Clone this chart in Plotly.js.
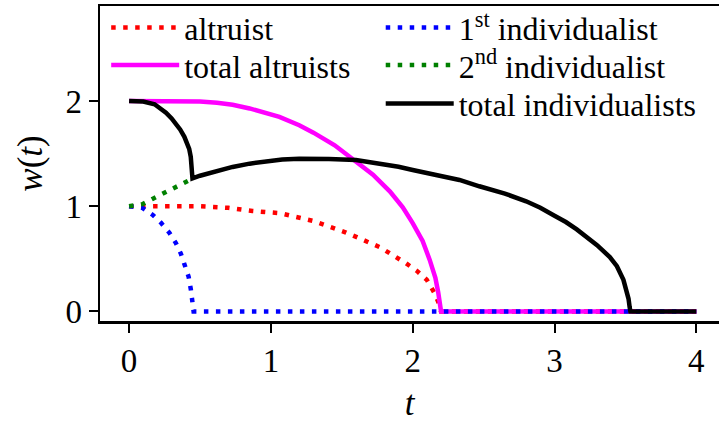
<!DOCTYPE html>
<html>
<head>
<meta charset="utf-8">
<script src="https://cdn.plot.ly/plotly-3.0.1.min.js"></script>
<style>
  html, body { margin: 0; padding: 0; background: #fff; overflow: hidden; }
  #graph { width: 719px; height: 423px; }
</style>
</head>
<body>
<div id="graph"></div>
<script>
// values
const altruistT = [0, 0.2, 0.5, 0.7, 0.87, 1.06, 1.2, 1.3, 1.53, 1.77, 1.95, 2.03, 2.1, 2.16, 2.18, 2.2, 4.0];
const altruistW = [1, 1, 1, 0.985, 0.955, 0.935, 0.895, 0.86, 0.75, 0.61, 0.46, 0.385, 0.3, 0.16, 0.09, 0, 0];

const totalAltT = [0, 0.3, 0.5, 0.62, 0.73, 0.85, 0.97, 1.06, 1.2, 1.3, 1.45, 1.6, 1.72, 1.84, 1.93, 2.0, 2.07, 2.12, 2.16, 2.18, 2.195, 2.2, 4.0];
const totalAltW = [2, 2, 1.995, 1.985, 1.965, 1.93, 1.88, 1.85, 1.77, 1.7, 1.58, 1.43, 1.3, 1.14, 0.99, 0.84, 0.67, 0.49, 0.32, 0.18, 0.06, 0, 0];

const firstIndT = [0, 0.094, 0.165, 0.224, 0.283, 0.33, 0.365, 0.396, 0.42, 0.436, 0.447, 0.455, 4.0];
const firstIndW = [1, 0.985, 0.92, 0.844, 0.75, 0.65, 0.55, 0.44, 0.33, 0.205, 0.096, 0, 0];

const secondIndT = [0, 0.094, 0.165, 0.235, 0.31, 0.389, 0.45];
const secondIndW = [1, 1.02, 1.07, 1.12, 1.17, 1.227, 1.265];

const totalIndT = [0, 0.1, 0.18, 0.22, 0.26, 0.3, 0.33, 0.36, 0.39, 0.41, 0.424, 0.435, 0.443, 0.447,
  0.5, 0.55, 0.63, 0.73, 0.85, 0.97, 1.08, 1.2, 1.3, 1.41, 1.6, 1.77, 1.9, 2.0, 2.12, 2.33, 2.47, 2.65, 2.8, 2.9,
  3.0, 3.08, 3.157, 3.23, 3.3, 3.39, 3.44, 3.486, 3.51, 3.522, 3.53, 3.535, 4.0];
const totalIndW = [2, 1.995, 1.97, 1.935, 1.89, 1.835, 1.79, 1.73, 1.66, 1.6, 1.545, 1.47, 1.37, 1.265,
  1.29, 1.31, 1.34, 1.374, 1.405, 1.43, 1.445, 1.452, 1.455, 1.45, 1.44, 1.405, 1.375, 1.345, 1.31, 1.25, 1.19, 1.12, 1.047, 0.985,
  0.91, 0.85, 0.78, 0.71, 0.63, 0.517, 0.43, 0.3, 0.2, 0.12, 0.04, 0, 0];

const xTicks = [0, 1, 2, 3, 4];
const yTicks = [0, 1, 2];

const FONT = "Liberation Serif";
const dotted = "4.5px,7.5px";

// one legend per entry so the rows sit where the reference has them
function legendBox(x, y) {
  return {
    x: x, y: y, xanchor: "left", yanchor: "middle",
    bgcolor: "rgba(0,0,0,0)", borderwidth: 0,
    font: { family: FONT, size: 32, color: "#000" },
    itemwidth: 68,
  };
}

let data = [
  {
    x: altruistT, y: altruistW, name: "altruist", type: "scatter", mode: "lines",
    line: { color: "#ff0000", width: 4.5, dash: dotted },
    legend: "legend",
  },
  {
    x: totalAltT, y: totalAltW, name: "total altruists", type: "scatter", mode: "lines",
    line: { color: "#ff00ff", width: 4.5 },
    legend: "legend2",
  },
  {
    x: firstIndT, y: firstIndW, name: "1<sup>st</sup> individualist", type: "scatter", mode: "lines",
    line: { color: "#0000ff", width: 4.5, dash: dotted },
    legend: "legend3",
  },
  {
    x: secondIndT, y: secondIndW, name: "2<sup>nd</sup> individualist", type: "scatter", mode: "lines",
    line: { color: "#008000", width: 4.5, dash: dotted },
    legend: "legend4",
  },
  {
    x: totalIndT, y: totalIndW, name: "total individualists", type: "scatter", mode: "lines",
    line: { color: "#000000", width: 4.5 },
    legend: "legend5",
  },
];

let layout = {
  width: 719,
  height: 423,
  paper_bgcolor: "#ffffff",
  plot_bgcolor: "#ffffff",
  font: { family: FONT, size: 33, color: "#000" },
  margin: { l: 100, r: 0, t: 2, b: 102 },
  showlegend: true,
  legend: legendBox(0.01, 0.931),
  legend2: legendBox(0.01, 0.812),
  legend3: legendBox(0.4535, 0.931),
  legend4: legendBox(0.4535, 0.812),
  legend5: legendBox(0.4535, 0.69),
  xaxis: {
    range: [-0.205, 4.16],
    tickvals: xTicks,
    ticktext: xTicks.map(String),
    ticks: "outside", ticklen: 9, tickwidth: 2, tickcolor: "#000",
    showline: true, linewidth: 2.5, linecolor: "#000", mirror: true,
    showgrid: false, zeroline: false,
    tickfont: { family: FONT, size: 33 },
    title: { text: "<i>t</i>", font: { family: FONT, size: 35 }, standoff: 14 },
  },
  yaxis: {
    range: [-0.091, 2.904],
    tickvals: yTicks,
    ticktext: yTicks.map(String),
    ticks: "outside", ticklen: 9, tickwidth: 2, tickcolor: "#000",
    showline: true, linewidth: 2.5, linecolor: "#000",
    showgrid: false, zeroline: false,
    tickfont: { family: FONT, size: 33 },
    title: { text: "<i>w</i>(<i>t</i>)", font: { family: FONT, size: 35 }, standoff: 12 },
  },
};

Plotly.newPlot("graph", data, layout, { displayModeBar: false, staticPlot: true });
</script>
</body>
</html>
